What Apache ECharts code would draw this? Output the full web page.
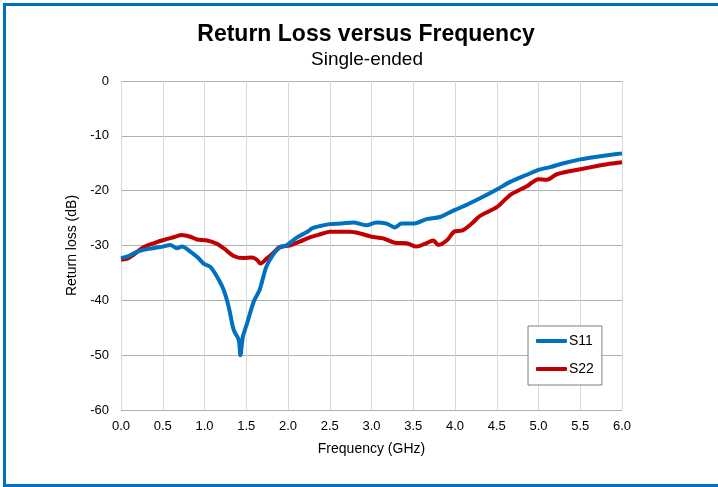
<!DOCTYPE html>
<html>
<head>
<meta charset="utf-8">
<script src="https://cdn.jsdelivr.net/npm/echarts@6/dist/echarts.min.js"></script>
<style>
html,body{margin:0;padding:0;background:#fff;}
#chart{width:718px;height:487px;}
</style>
</head>
<body>
<div id="chart"></div>
<script>
// Data
var titleText = 'Return Loss versus Frequency';
var subtitleText = 'Single-ended';
var xAxisName = 'Frequency (GHz)';
var yAxisName = 'Return loss (dB)';
var seriesNames = ['S11', 'S22'];

var s11Freq = [0.0, 0.08, 0.17, 0.27, 0.38, 0.5, 0.59, 0.67, 0.73, 0.83, 0.92, 0.99, 1.07, 1.15, 1.23, 1.29, 1.35, 1.41, 1.43, 1.46, 1.51, 1.59, 1.66, 1.74, 1.82, 1.90, 1.99, 2.10, 2.22, 2.30, 2.40, 2.5, 2.64, 2.78, 2.94, 3.06, 3.18, 3.28, 3.36, 3.5, 3.66, 3.82, 4.0, 4.14, 4.3, 4.5, 4.66, 4.86, 5.0, 5.14, 5.30, 5.5, 5.70, 5.85, 6.0];
var s11Loss = [-32.3, -32.0, -31.3, -30.8, -30.5, -30.2, -29.9, -30.5, -30.2, -31.1, -32.2, -33.3, -33.9, -35.7, -38.1, -41.2, -45.4, -47.2, -50.0, -46.6, -44.2, -40.2, -38.1, -33.9, -31.7, -30.4, -29.9, -28.6, -27.6, -26.8, -26.4, -26.1, -26.0, -25.8, -26.3, -25.8, -26.0, -26.7, -26.0, -26.0, -25.2, -24.8, -23.5, -22.6, -21.4, -19.8, -18.4, -17.1, -16.2, -15.7, -15.0, -14.3, -13.8, -13.5, -13.2];

var s22Freq = [0.0, 0.09, 0.15, 0.27, 0.39, 0.51, 0.63, 0.73, 0.83, 0.91, 1.03, 1.15, 1.23, 1.35, 1.46, 1.57, 1.63, 1.67, 1.75, 1.82, 1.90, 2.02, 2.14, 2.26, 2.40, 2.5, 2.74, 2.86, 3.0, 3.14, 3.28, 3.42, 3.54, 3.64, 3.74, 3.80, 3.90, 4.0, 4.08, 4.2, 4.3, 4.5, 4.66, 4.86, 5.0, 5.10, 5.22, 5.5, 5.70, 5.85, 6.0];
var s22Loss = [-32.6, -32.3, -31.7, -30.3, -29.6, -29.0, -28.5, -28.1, -28.4, -28.9, -29.1, -29.7, -30.5, -31.9, -32.3, -32.2, -32.6, -33.3, -32.3, -31.4, -30.3, -30.0, -29.3, -28.5, -27.9, -27.5, -27.5, -27.8, -28.4, -28.7, -29.5, -29.6, -30.2, -29.7, -29.1, -29.9, -29.1, -27.4, -27.3, -26.0, -24.6, -23.0, -20.8, -19.2, -17.9, -18.0, -17.0, -16.1, -15.5, -15.1, -14.8];

var xTicks = {min: 0, max: 6, interval: 0.5};
var yTicks = {min: -60, max: 0, interval: 10};

function pairs(xs, ys) {
  var out = [];
  for (var i = 0; i < xs.length; i++) out.push([xs[i], ys[i]]);
  return out;
}

var chart = echarts.init(document.getElementById('chart'), null, {renderer: 'canvas'});
var font = '"Liberation Sans", Arial, sans-serif';
var option = {
  backgroundColor: '#ffffff',
  animation: false,
  textStyle: {fontFamily: font},
  graphic: [
    {type: 'rect', shape: {x: 4.5, y: 4.5, width: 720, height: 481},
     style: {fill: 'none', stroke: '#0070C0', lineWidth: 3}, silent: true},
    {type: 'text', x: 366, y: 35,
     style: {text: titleText, font: 'bold 23px ' + font, fill: '#000', textAlign: 'center', textVerticalAlign: 'middle'}},
    {type: 'text', x: 367, y: 60,
     style: {text: subtitleText, font: '19px ' + font, fill: '#000', textAlign: 'center', textVerticalAlign: 'middle'}}
  ],
  grid: {left: 121, right: 96, top: 81, bottom: 77, containLabel: false},
  legend: {
    data: seriesNames,
    orient: 'vertical',
    left: 528, top: 326,
    padding: [8, 8, 9, 8],
    itemGap: 14,
    itemWidth: 31, itemHeight: 4,
    icon: 'roundRect',
    borderColor: '#7f7f7f', borderWidth: 1, backgroundColor: '#fff',
    textStyle: {fontFamily: font, fontSize: 14, color: '#000', padding: [0, 0, 0, -3]}
  },
  xAxis: {
    type: 'value', min: xTicks.min, max: xTicks.max, interval: xTicks.interval,
    name: xAxisName, nameLocation: 'middle', nameGap: 32,
    nameTextStyle: {fontFamily: font, fontSize: 14, color: '#000'},
    axisLine: {show: false},
    axisTick: {show: false},
    axisLabel: {formatter: function (v) { return v.toFixed(1); }, fontFamily: font, fontSize: 13, color: '#000', margin: 10},
    splitLine: {show: true, lineStyle: {color: '#d9d9d9', width: 1}}
  },
  yAxis: {
    type: 'value', min: yTicks.min, max: yTicks.max, interval: yTicks.interval,
    name: yAxisName, nameLocation: 'middle', nameGap: 39, nameRotate: 90,
    nameTextStyle: {fontFamily: font, fontSize: 14, color: '#000'},
    axisLine: {show: false},
    axisTick: {show: false},
    axisLabel: {fontFamily: font, fontSize: 13, color: '#000', margin: 12},
    splitLine: {show: true, lineStyle: {color: '#b0b0b0', width: 1}}
  },
  series: [
    {name: seriesNames[0], type: 'line', data: pairs(s11Freq, s11Loss), showSymbol: false, smooth: 0.3,
     lineStyle: {color: '#0070C0', width: 4}, itemStyle: {color: '#0070C0'}, z: 3},
    {name: seriesNames[1], type: 'line', data: pairs(s22Freq, s22Loss), showSymbol: false, smooth: 0.3,
     lineStyle: {color: '#C00000', width: 4}, itemStyle: {color: '#C00000'}, z: 2}
  ]
};
chart.setOption(option);
</script>
</body>
</html>
